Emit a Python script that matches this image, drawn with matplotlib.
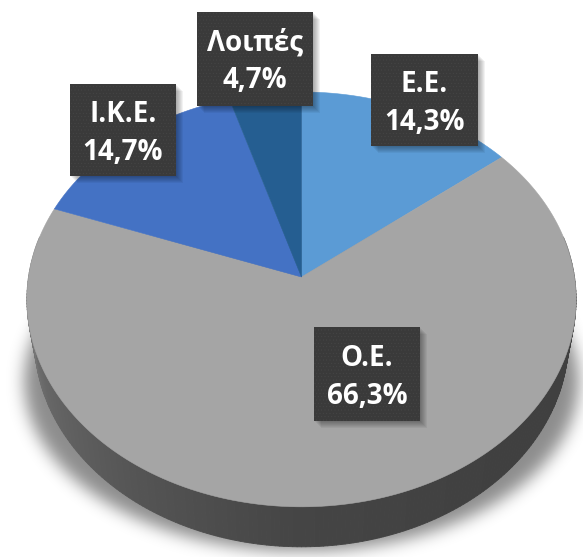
#!/usr/bin/python3

import matplotlib
matplotlib.use('Agg')
import matplotlib.pyplot as plt
import numpy as np
from matplotlib.collections import PolyCollection
from matplotlib.patches import Polygon, Rectangle
from matplotlib.path import Path

plt.rcParams['hatch.linewidth'] = 0.3

# clockwise from 12 o'clock
categories = ['Ε.Ε.', 'Ο.Ε.', 'Ι.Κ.Ε.', 'Λοιπές']
values = [14.3, 66.3, 14.7, 4.7]
value_labels = ['14,3%', '66,3%', '14,7%', '4,7%']
colors = ['#5b9bd5', '#a5a5a5', '#4472c4', '#255e91']

# box left, top, right, bottom in pixels
label_boxes = [(371, 54, 478, 146), (314, 327, 420, 421),
               (70, 84, 176, 176), (197, 12, 313, 106)]

W, H = 583, 557
APEX_X, APEX_Y = 301.5, 277
RX, RY, PERSP = 273, 205, 0.108
DEPTH = 40
WALL_SHRINK = 0.972


def project(theta):
    # tilted disc, theta clockwise from the top, near edge comes out larger
    u, v = np.sin(theta), np.cos(theta)
    d = 1 + PERSP * v
    return APEX_X + RX * u / d, APEX_Y - RY * v / d


def side_color(theta):
    # theta runs from right rim (pi/2) to left rim (3pi/2)
    t = (theta - np.pi / 2) / np.pi
    stops = [0.0, 0.25, 0.5, 0.68, 0.85, 1.0]
    grey = [0.25, 0.25, 0.27, 0.33, 0.40, 0.50]
    g = np.interp(t, stops, grey)
    return (g, g, g)


def blurred_shadow(px, py, sigma=8.0, strength=0.45):
    # rasterise the outline, then gaussian blur it row and column wise
    pad = 40
    gx, gy = np.meshgrid(np.arange(-pad, W + pad) + 0.5, np.arange(-pad, H + pad) + 0.5)
    pts = np.c_[gx.ravel(), gy.ravel()]
    mask = Path(np.c_[px, py]).contains_points(pts).reshape(gx.shape).astype(float)
    k = np.exp(-0.5 * (np.arange(-25, 26) / sigma) ** 2)
    k /= k.sum()
    mask = np.apply_along_axis(lambda r: np.convolve(r, k, mode='same'), 0, mask)
    mask = np.apply_along_axis(lambda r: np.convolve(r, k, mode='same'), 1, mask)
    rgba = np.zeros(mask.shape + (4,))
    rgba[..., 3] = mask * strength
    return rgba[pad:-pad, pad:-pad]


fig = plt.figure(figsize=(W / 100, H / 100), dpi=100)
ax = fig.add_axes([0, 0, 1, 1])

# soft shadow under the disc, squashed ellipse so its sides run nearly straight down
t_all = np.linspace(0, 2 * np.pi, 361)
rim_x, rim_y = project(t_all)
cx, cy = (rim_x.max() + rim_x.min()) / 2, (rim_y.max() + rim_y.min()) / 2
shadow = blurred_shadow(cx + (rim_x - cx) * 1.01, cy + 82 + (rim_y - cy) * 0.82)
ax.imshow(shadow, extent=(0, W, H, 0), zorder=1, interpolation='bilinear')
ax.set_xlim(0, W)
ax.set_ylim(H, 0)
ax.set_aspect('auto')
ax.axis('off')

# side wall, lower edge pulled in so it meets the rim below the widest point
t_side = np.linspace(np.pi / 2 - 0.2, 3 * np.pi / 2 + 0.2, 241)
xs, ys = project(t_side)
xb = APEX_X + (xs - APEX_X) * WALL_SHRINK
yb = ys + DEPTH
quads = [[(xs[i], ys[i]), (xs[i + 1], ys[i + 1]),
          (xb[i + 1], yb[i + 1]), (xb[i], yb[i])]
         for i in range(len(t_side) - 1)]
side_cols = [side_color(np.clip(t, np.pi / 2, 3 * np.pi / 2)) for t in t_side[:-1]]
ax.add_collection(PolyCollection(quads, facecolors=side_cols, edgecolors=side_cols,
                                 linewidths=0.6, zorder=2))

# top face slices
edges = np.radians(np.r_[0, np.cumsum(values)] / sum(values) * 360)
for i, col in enumerate(colors):
    t = np.linspace(edges[i], edges[i + 1], 200)
    x, y = project(t)
    ax.add_patch(Polygon(np.c_[np.r_[APEX_X, x], np.r_[APEX_Y, y]], closed=True,
                         fc=col, ec=col, lw=0.4, zorder=3))

# label boxes
for i, (x0, y0, x1, y1) in enumerate(label_boxes):
    for off in np.linspace(8, 1, 8):
        ax.add_patch(Rectangle((x0 + off - 1, y0 + off - 1), x1 - x0, y1 - y0,
                               fc='black', ec='none', alpha=0.05, zorder=4))
    ax.add_patch(Rectangle((x0, y0), x1 - x0, y1 - y0, fc='#3a3a3a', ec='#474747',
                           lw=0, hatch='.....', zorder=5))
    xm, ym = (x0 + x1) / 2, (y0 + y1) / 2
    for text, dy in ((categories[i], -16), (value_labels[i], 22)):
        ax.text(xm, ym + dy, text, color='white', fontsize=20, fontweight='bold',
                family=['Open Sans', 'DejaVu Sans'], ha='center', va='center', zorder=6)

fig.savefig('out.png', dpi=100, facecolor='white')
